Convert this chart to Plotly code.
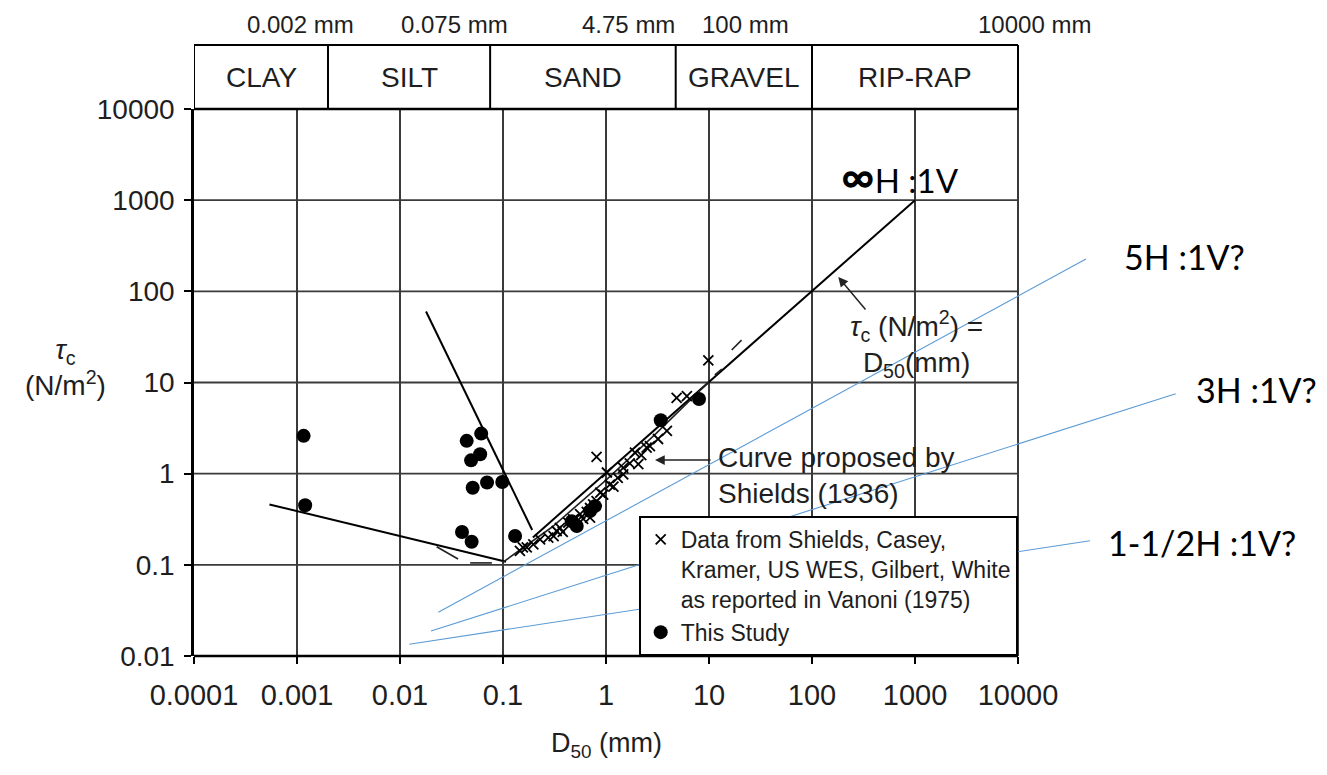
import numpy as np
import plotly.graph_objects as go

# ---------------- data ----------------
x_ticks = [1e-4, 1e-3, 1e-2, 1e-1, 1, 10, 100, 1000, 10000]
x_ticktext = ["0.0001", "0.001", "0.01", "0.1", "1", "10", "100", "1000", "10000"]
y_ticks = [0.01, 0.1, 1, 10, 100, 1000, 10000]
y_ticktext = ["0.01", "0.1", "1", "10", "100", "1000", "10000"]

class_bounds = [1e-4, 0.002, 0.075, 4.75, 100, 10000]
class_names = ["CLAY", "SILT", "SAND", "GRAVEL", "RIP-RAP"]
size_labels = ["0.002 mm", "0.075 mm", "4.75 mm", "100 mm", "10000 mm"]
size_label_x = [0.00107, 0.034, 1.64, 22.4, 14600]

# black curves
clay_x = [0.00054, 0.107]
clay_y = [0.46, 0.108]
silt_x = [0.0179, 0.192]
silt_y = [60.0, 0.241]
taud_x = [0.195, 1000]
taud_y = [0.2, 1000]
shields_x = [0.0227, 0.0366, None, 0.048, 0.078, None, 0.1, 0.3, 1.0, 3.0, 10.0, None, 11.4, 13.3, None, 16.6, 20.7]
shields_y = [0.158, 0.116, None, 0.105, 0.105, None, 0.107, 0.26, 0.85, 2.7, 10.2, None, 12.1, 14.0, None, 22.7, 29.2]

# Vanoni (1975) data (x markers)
van_x = [0.146, 0.156, 0.17, 0.197, 0.229, 0.275, 0.31, 0.332, 0.357, 0.38, 0.43, 0.48, 0.52, 0.56,
         0.60, 0.65, 0.70, 0.70, 0.75, 0.81, 0.88, 0.94, 1.02, 1.09, 1.18, 1.3, 1.47, 1.47, 1.7,
         1.91, 2.06, 2.2, 2.48, 2.67, 3.2, 3.9, 4.85, 6.1, 9.85, 0.81]
van_y = [0.142, 0.155, 0.155, 0.168, 0.19, 0.199, 0.207, 0.235, 0.255, 0.23, 0.29, 0.316, 0.30, 0.36,
         0.32, 0.38, 0.42, 0.33, 0.46, 0.50, 0.62, 0.59, 1.03, 0.76, 0.72, 0.9, 0.98, 1.16, 1.3,
         1.70, 1.27, 1.6, 1.93, 2.01, 2.4, 2.94, 6.8, 7.1, 17.5, 1.53]

# This study (dots)
dot_x = [0.00116, 0.0012, 0.0614, 0.0444, 0.060, 0.049, 0.0508, 0.070, 0.0984, 0.040, 0.0496,
         0.131, 0.465, 0.52, 0.70, 0.78, 3.4, 8.0]
dot_y = [2.6, 0.45, 2.75, 2.29, 1.63, 1.40, 0.70, 0.80, 0.81, 0.229, 0.179,
         0.207, 0.30, 0.267, 0.39, 0.44, 3.85, 6.6]

# hand-drawn slope lines (blue)
slope_names = ["5H :1V?", "3H :1V?", "1-1/2H :1V?"]
slope_x0 = [0.02355, 0.0200, 0.0123]
slope_y0 = [0.0302, 0.0188, 0.01346]
slope_x1 = [45700, 340000, 50000]
slope_y1 = [226, 7.53, 0.184]
slope_label_x = [418000, 2090000, 611000]
slope_label_y = [244, 8.28, 0.178]

BLUE = "#5B9BD5"
FONT = "Liberation Sans, Arial, sans-serif"
GRID = "#3a3a3a"
TXT = "#1e1e1e"

fig = go.Figure()

for xs, ys in [(clay_x, clay_y), (silt_x, silt_y), (taud_x, taud_y)]:
    fig.add_trace(go.Scatter(x=xs, y=ys, mode="lines", line=dict(color="black", width=2),
                             showlegend=False, hoverinfo="skip"))
fig.add_trace(go.Scatter(x=shields_x, y=shields_y, mode="lines", line=dict(color="#222", width=1.6),
                         showlegend=False, connectgaps=False, hoverinfo="skip"))

for i in range(len(slope_names)):
    fig.add_trace(go.Scatter(x=[slope_x0[i], slope_x1[i]], y=[slope_y0[i], slope_y1[i]], mode="lines",
                             line=dict(color=BLUE, width=1.1), showlegend=False, hoverinfo="skip"))

fig.add_trace(go.Scatter(
    x=van_x, y=van_y, mode="markers",
    name="Data from Shields, Casey,<br>Kramer, US WES, Gilbert, White<br>as reported in Vanoni (1975)",
    marker=dict(symbol="x-thin", size=10, color="black", line=dict(width=1.8, color="black"))))
fig.add_trace(go.Scatter(
    x=dot_x, y=dot_y, mode="markers", name="This Study",
    marker=dict(symbol="circle", size=14, color="black")))

shapes = []
# horizontal grid lines (limited to the chart's x extent)
for yv in y_ticks:
    shapes.append(dict(type="line", xref="x", yref="y", x0=x_ticks[0], x1=x_ticks[-1], y0=yv, y1=yv,
                       line=dict(color=GRID, width=1.8), layer="below"))
# bottom axis line
shapes.append(dict(type="line", xref="x", yref="paper", x0=x_ticks[0], x1=x_ticks[-1], y0=0, y1=0,
                   line=dict(color="black", width=2.5), layer="above"))
# soil-class band
band_top = 1.117
shapes.append(dict(type="line", xref="x", yref="paper", x0=class_bounds[0], x1=class_bounds[-1],
                   y0=band_top, y1=band_top, line=dict(color="black", width=2)))
shapes.append(dict(type="line", xref="x", yref="paper", x0=class_bounds[0], x1=class_bounds[-1],
                   y0=1, y1=1, line=dict(color="black", width=2.5)))
for b in class_bounds:
    shapes.append(dict(type="line", xref="x", yref="paper", x0=b, x1=b, y0=1, y1=band_top,
                       line=dict(color="black", width=2)))

annotations = []
for i, nm in enumerate(class_names):
    cx = (np.log10(class_bounds[i]) + np.log10(class_bounds[i + 1])) / 2
    annotations.append(dict(x=cx, y=1.0567, xref="x", yref="paper", text=nm, showarrow=False,
                            xanchor="center", yanchor="middle",
                            font=dict(size=28, family=FONT, color=TXT)))
for i, lb in enumerate(size_labels):
    annotations.append(dict(x=np.log10(size_label_x[i]), y=1.1536, xref="x", yref="paper", text=lb,
                            showarrow=False, xanchor="center", yanchor="middle",
                            font=dict(size=24, family=FONT, color=TXT)))

# axis titles
annotations.append(dict(x=-0.113, y=0.528, xref="paper", yref="paper",
                        text="<i>τ</i><sub>c</sub><br>(N/m<sup>2</sup>)", showarrow=False,
                        xanchor="center", yanchor="middle",
                        font=dict(size=28, family=FONT, color=TXT)))
annotations.append(dict(x=0.3645, y=-0.163, xref="paper", yref="paper",
                        text="D<sub>50</sub> (mm)", showarrow=False,
                        xanchor="center", yanchor="middle",
                        font=dict(size=27, family=FONT, color=TXT)))

# tau = D annotation
annotations.append(dict(x=np.log10(1023), y=np.log10(26.4), xref="x", yref="y",
                        text="<i>τ</i><sub>c</sub> (N/m<sup>2</sup>) =<br>D<sub>50</sub>(mm)",
                        showarrow=False, align="center", font=dict(size=28, family=FONT, color=TXT)))
annotations.append(dict(x=np.log10(180), y=np.log10(143.6), ax=np.log10(340), ay=np.log10(60.8),
                        xref="x", yref="y", axref="x", ayref="y", text="", showarrow=True,
                        arrowhead=2, arrowsize=1.3, arrowwidth=1.5, arrowcolor="#222"))
# Shields annotation
annotations.append(dict(x=np.log10(11.7), y=np.log10(0.943), xref="x", yref="y", xanchor="left",
                        text="Curve proposed by<br>Shields (1936)", showarrow=False, align="left",
                        font=dict(size=28, family=FONT, color=TXT)))
annotations.append(dict(x=np.log10(2.99), y=np.log10(1.41), ax=np.log10(10.7), ay=np.log10(1.41),
                        xref="x", yref="y", axref="x", ayref="y", text="", showarrow=True,
                        arrowhead=2, arrowsize=1.3, arrowwidth=1.5, arrowcolor="#222"))

# slope labels
annotations.append(dict(x=2.854, y=3.276, xref="x", yref="y",
                        text="<span style='font-size:46px'><b>∞</b></span>H :1V", showarrow=False,
                        font=dict(size=33, family="Lato, sans-serif", color="black")))
for i, nm in enumerate(slope_names):
    annotations.append(dict(x=np.log10(slope_label_x[i]), y=np.log10(slope_label_y[i]), xref="x", yref="y",
                            text=nm, showarrow=False,
                            font=dict(size=34, family="Lato, sans-serif", color="black")))

fig.update_layout(
    width=1327, height=775,
    margin=dict(l=194, r=0, t=109, b=119),
    paper_bgcolor="white", plot_bgcolor="white",
    shapes=shapes, annotations=annotations,
    font=dict(family=FONT, color=TXT),
    legend=dict(x=0.727, y=0.0, xanchor="right", yanchor="bottom", bgcolor="white",
                bordercolor="black", borderwidth=2, font=dict(size=23, family=FONT, color=TXT),
                valign="top", itemwidth=30, tracegroupgap=0),
    xaxis=dict(type="log", range=[-4, 7.0], tickvals=x_ticks, ticktext=x_ticktext,
               showgrid=True, gridcolor=GRID, gridwidth=1.8, showline=False, zeroline=False,
               ticks="outside", ticklen=7, tickwidth=1.5, tickcolor="black",
               ticklabelstandoff=6, tickfont=dict(size=29, family=FONT, color=TXT)),
    yaxis=dict(type="log", range=[-2, 4], tickvals=y_ticks, ticktext=y_ticktext,
               showgrid=False, showline=True, linecolor="black", linewidth=2.5, zeroline=False,
               ticks="outside", ticklen=7, tickwidth=1.5, tickcolor="black",
               ticklabelstandoff=4, tickfont=dict(size=28, family=FONT, color=TXT)),
)

fig.write_html("out.html")
